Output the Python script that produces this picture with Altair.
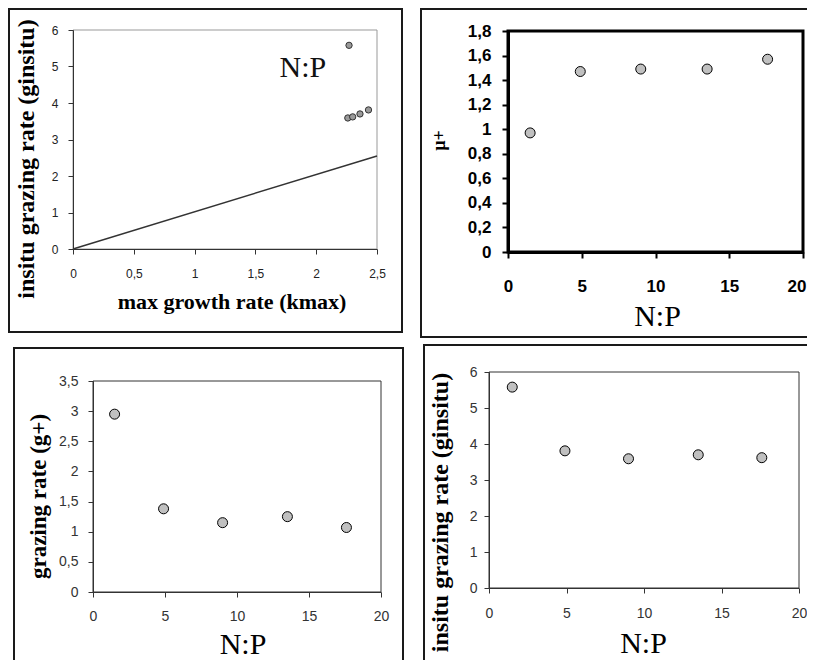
import altair as alt
import pandas as pd

# ---------------- data ----------------
np_ratio = [1.5, 4.9, 9.0, 13.5, 17.6]
mu_plus = [0.97, 1.47, 1.49, 1.49, 1.57]
g_plus = [2.95, 1.38, 1.15, 1.25, 1.07]
g_insitu = [5.58, 3.81, 3.59, 3.70, 3.62]
k_max = [2.27, 2.43, 2.26, 2.36, 2.30]

line_kmax = [0.0, 2.5]
line_ginsitu = [0.0, 2.55]

note_kmax = [1.89]
note_ginsitu = [4.71]
note_text = ["N:P"]

ticks_kmax = [0, 0.5, 1, 1.5, 2, 2.5]
ticks_ginsitu = [0, 1, 2, 3, 4, 5, 6]
ticks_mu = [0, 0.2, 0.4, 0.6, 0.8, 1, 1.2, 1.4, 1.6, 1.8]
ticks_gplus = [0, 0.5, 1, 1.5, 2, 2.5, 3, 3.5]
ticks_np = [0, 5, 10, 15, 20]

# ---------------- layout (pixels inside the chart) ----------------
WIDTH, HEIGHT = 799, 652
BOX_TL = (65, 369, 22, 241)    # left, right, top, bottom of plot area
BOX_TR = (500, 795, 23, 244)
BOX_BL = (85, 373, 373, 584)
BOX_BR = (481, 791, 364, 580)

SERIF = "Liberation Serif"
SANS = "Liberation Sans"
COMMA = "replace(format(datum.value, '~g'), '.', ',')"
FRAME = "#1a1a1a"
one = alt.Data(values=[{"o": 1}])


def hrule(x, x2, y):
    return alt.Chart(one).mark_rule(color=FRAME, strokeWidth=2).encode(
        x=alt.value(x), x2=alt.value(x2), y=alt.value(y))


def vrule(x, y, y2):
    return alt.Chart(one).mark_rule(color=FRAME, strokeWidth=2).encode(
        x=alt.value(x), y=alt.value(y), y2=alt.value(y2))


def make_axis(values, title, orient, offset, label_size, label_color, label_pad,
              dom_color, title_size, title_x, title_y, label_weight="normal",
              dom_width=1, tick_width=1, tick_size=5, title_weight="bold", **extra):
    kw = dict(values=values, title=title, orient=orient, offset=offset, grid=False,
              labelExpr=COMMA, labelFont=SANS, labelFontSize=label_size,
              labelColor=label_color, labelFontWeight=label_weight,
              labelPadding=label_pad, labelOverlap=False, tickSize=tick_size,
              tickColor=dom_color, tickWidth=tick_width, domainColor=dom_color,
              domainWidth=dom_width, titleFont=SERIF, titleFontSize=title_size,
              titleFontWeight=title_weight, titleColor="black",
              titleX=title_x, titleY=title_y, zindex=1)
    if orient == "bottom":
        kw["titleBaseline"] = "alphabetic"
        kw["labelFlush"] = False
    kw.update(extra)
    return alt.Axis(**kw)


def border(xf, yf, xticks, yticks, color, width):
    df = pd.DataFrame({xf: [xticks[0]], xf + "2": [xticks[-1]],
                       yf: [yticks[0]], yf + "2": [yticks[-1]]})
    return df, dict(fillOpacity=0, stroke=color, strokeWidth=width)


def panel(box, xf, yf, xticks, yticks, xaxis, yaxis, pts, point_style, border_style,
          extra_layers=()):
    L, R, T, B = box
    X = alt.X(f"{xf}:Q", scale=alt.Scale(domain=[xticks[0], xticks[-1]],
                                         range=[L, R], nice=False, zero=False),
              axis=xaxis)
    Y = alt.Y(f"{yf}:Q", scale=alt.Scale(domain=[yticks[0], yticks[-1]],
                                         range=[B, T], nice=False, zero=False),
              axis=yaxis)
    bdf, bstyle = border(xf, yf, xticks, yticks, *border_style)
    layers = [alt.Chart(bdf).mark_rect(**bstyle).encode(
        x=X, x2=f"{xf}2:Q", y=Y, y2=f"{yf}2:Q")]
    for build in extra_layers:
        layers.append(build(X, Y))
    layers.append(alt.Chart(pts).mark_circle(opacity=1, **point_style).encode(x=X, y=Y))
    return alt.layer(*layers)


# ---------------- panel 1 : ginsitu vs kmax ----------------
L, R, T, B = BOX_TL
tl = panel(
    BOX_TL, "kmax", "ginsitu", ticks_kmax, ticks_ginsitu,
    make_axis(ticks_kmax, "max growth rate (kmax)", "bottom", B - HEIGHT, 12, "#222",
              14, "#333", 22, 223.5, 59),
    make_axis(ticks_ginsitu, "insitu grazing rate (ginsitu)", "left", -L, 12, "#222",
              10, "#333", 24, -35, 150.5),
    pd.DataFrame({"kmax": k_max, "ginsitu": g_insitu}),
    dict(size=40, color="#9a9a9a", stroke="#333", strokeWidth=1),
    ("#999", 1),
    extra_layers=(
        lambda X, Y: alt.Chart(pd.DataFrame({"kmax": line_kmax, "ginsitu": line_ginsitu}))
        .mark_line(color="#333", strokeWidth=1.5).encode(x=X, y=Y),
        lambda X, Y: alt.Chart(pd.DataFrame({"kmax": note_kmax, "ginsitu": note_ginsitu,
                                             "t": note_text}))
        .mark_text(font=SERIF, fontSize=30, align="center", baseline="alphabetic",
                   color="#111").encode(x=X, y=Y, text="t:N"),
    ),
)

# ---------------- panel 2 : mu+ vs N:P ----------------
L, R, T, B = BOX_TR
tr = panel(
    BOX_TR, "np", "mu", ticks_np, ticks_mu,
    make_axis(ticks_np, "N:P", "bottom", B - HEIGHT, 17, "black", 20, "black", 30,
              649, 73, label_weight="bold", dom_width=3, tick_width=2, tick_size=6,
              title_weight="normal",
              labelAlign={"condition": {"test": "datum.value >= 20", "value": "right"},
                          "value": "center"},
              labelOffset={"condition": {"test": "datum.value >= 20", "value": 3},
                           "value": 0}),
    make_axis(ticks_mu, "µ+", "left", -L, 17, "black", 11, "black", 18, -60, 132,
              label_weight="bold", dom_width=3, tick_width=2, tick_size=6),
    pd.DataFrame({"np": np_ratio, "mu": mu_plus}),
    dict(size=100, color="#c0c0c0", stroke="#000", strokeWidth=1),
    ("black", 3),
)

# ---------------- panel 3 : g+ vs N:P ----------------
L, R, T, B = BOX_BL
bl = panel(
    BOX_BL, "np", "g", ticks_np, ticks_gplus,
    make_axis(ticks_np, "N:P", "bottom", B - HEIGHT, 14, "#333", 12, "#333", 30,
              234.5, 61, title_weight="normal"),
    make_axis(ticks_gplus, "grazing rate (g+)", "left", -L, 14, "#333", 10, "#333",
              23, -43, 488),
    pd.DataFrame({"np": np_ratio, "g": g_plus}),
    dict(size=100, color="#c0c0c0", stroke="#000", strokeWidth=1),
    ("#333", 1),
)

# ---------------- panel 4 : ginsitu vs N:P ----------------
L, R, T, B = BOX_BR
br = panel(
    BOX_BR, "np", "gi", ticks_np, ticks_ginsitu,
    make_axis(ticks_np, "N:P", "bottom", B - HEIGHT, 14, "#333", 13, "#333", 30,
              635, 64, title_weight="normal"),
    make_axis(ticks_ginsitu, "insitu grazing rate (ginsitu)", "left", -L, 14, "#333",
              7, "#333", 24, -37, 504),
    pd.DataFrame({"np": np_ratio, "gi": g_insitu}),
    dict(size=100, color="#c0c0c0", stroke="#000", strokeWidth=1),
    ("#333", 1),
)

# ---------------- outer frames around each panel ----------------
frames = [
    hrule(0, 394, 1), hrule(0, 394, 324), vrule(1, 0, 325), vrule(394, 0, 325),
    hrule(412, WIDTH, 1), hrule(412, WIDTH, 329), vrule(413, 0, 330),
    hrule(5, 395, 340), vrule(6, 339, HEIGHT), vrule(395, 339, HEIGHT),
    hrule(415, WIDTH, 337), vrule(416, 336, HEIGHT),
]

chart = (
    alt.layer(*frames, tl, tr, bl, br)
    .resolve_scale(x="independent", y="independent")
    .properties(width=WIDTH, height=HEIGHT, padding=0,
                autosize=alt.AutoSizeParams(type="none"))
    .configure_view(strokeWidth=0)
)

chart.save("out.html", embed_options={"renderer": "svg", "actions": False})
